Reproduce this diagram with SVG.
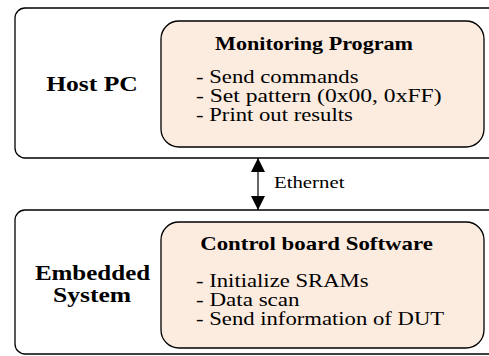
<svg xmlns="http://www.w3.org/2000/svg" width="489" height="356" viewBox="0 0 489 356">
<style>
.outer{fill:#ffffff;stroke:#000;stroke-width:1.3}
.inner{fill:#fcebdf;stroke:#000;stroke-width:1.3}
.t{font-family:"Liberation Serif","Times New Roman",serif;fill:#000}
.b{font-weight:bold}
.c{text-anchor:middle}
.it{font-size:18px}
</style>
<defs>
<marker id="ah" viewBox="0 0 10 10" refX="10" refY="5" markerWidth="14" markerHeight="15" markerUnits="userSpaceOnUse" orient="auto">
<path d="M0,0 L10,5 L0,10 Z" fill="#000"/>
</marker>
</defs>
<rect width="489" height="356" fill="#fff"/>
<g id="host">
<rect class="outer" x="15" y="8" width="484" height="150" rx="10"/>
<text class="t b c" transform="translate(92,91) scale(1.28,1)" font-size="20">Host PC</text>
</g>
<g id="monitor">
<rect class="inner" x="161" y="21" width="323" height="126" rx="18"/>
<text class="t b c" transform="translate(314,50) scale(1.23,1)" font-size="18">Monitoring Program</text>
<text class="t it" transform="translate(196,83) scale(1.26,1)">- Send commands</text>
<text class="t it" transform="translate(196,102) scale(1.31,1)">- Set pattern (0x00, 0xFF)</text>
<text class="t it" transform="translate(196,121) scale(1.26,1)">- Print out results</text>
</g>
<g id="embedded">
<rect class="outer" x="15" y="210" width="484" height="144" rx="10"/>
<text class="t b c" transform="translate(92.5,280) scale(1.25,1)" font-size="20">Embedded</text>
<text class="t b c" transform="translate(92,302) scale(1.28,1)" font-size="20">System</text>
</g>
<g id="control">
<rect class="inner" x="161" y="222" width="323" height="126" rx="18"/>
<text class="t b c" transform="translate(316.5,250) scale(1.27,1)" font-size="18">Control board Software</text>
<text class="t it" transform="translate(196,287) scale(1.26,1)">- Initialize SRAMs</text>
<text class="t it" transform="translate(196,306) scale(1.28,1)">- Data scan</text>
<text class="t it" transform="translate(196,325) scale(1.26,1)">- Send information of DUT</text>
</g>
<g id="connectors">
<line x1="258" y1="184" x2="258" y2="158" stroke="#000" stroke-width="1.2" marker-end="url(#ah)"/>
<line x1="258" y1="184" x2="258" y2="210" stroke="#000" stroke-width="1.2" marker-end="url(#ah)"/>
<text class="t" transform="translate(274,188) scale(1.3,1)" font-size="16">Ethernet</text>
</g>
</svg>
